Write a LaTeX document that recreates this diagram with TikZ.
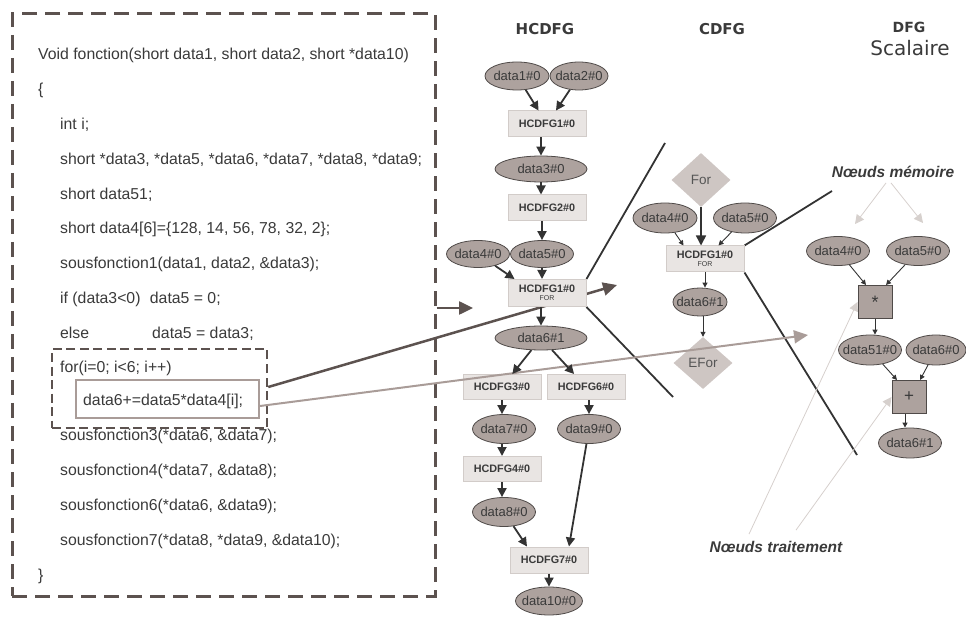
\documentclass[tikz,border=0pt]{standalone}
\usepackage{fontspec}
\setmainfont{Liberation Sans}
\newfontfamily\hdrfont{DejaVu Sans}
\usetikzlibrary{shapes.geometric,arrows.meta,calc}
\definecolor{frameC}{HTML}{5C524F}
\definecolor{ellF}{HTML}{ADA29E}
\definecolor{ellD}{HTML}{4F4A48}
\definecolor{boxF}{HTML}{E9E5E3}
\definecolor{boxD}{HTML}{D2CCC9}
\definecolor{diaF}{HTML}{CEC6C3}
\definecolor{txtC}{HTML}{3A3A3A}
\definecolor{diaT}{HTML}{555555}
\definecolor{arrC}{HTML}{333333}
\definecolor{grayL}{HTML}{A99C98}
\definecolor{lightA}{HTML}{D6D0CD}
\pgfdeclarelayer{bg}
\pgfsetlayers{bg,main}
\begin{document}
\begin{tikzpicture}[x=1pt,y=-1pt,
  ell/.style={ellipse, draw=ellD, line width=0.8pt, fill=ellF, inner xsep=-8pt, inner ysep=0pt, text=txtC, font=\fontsize{13}{13}\selectfont},
  hbox/.style={rectangle, draw=boxD, line width=1pt, fill=boxF, minimum width=78pt, minimum height=26pt, inner sep=0pt, text=txtC, font=\bfseries\fontsize{10.8}{11}\selectfont},
  dia/.style={diamond, fill=diaF, inner sep=0pt, minimum width=59pt, minimum height=54pt, text=diaT, font=\fontsize{13.5}{13.5}\selectfont},
  opbox/.style={rectangle, draw=ellD, line width=1pt, fill=ellF, minimum width=34pt, minimum height=33pt, inner sep=0pt, text=txtC},
  code/.style={anchor=base west, inner sep=0pt, text=txtC, font=\fontsize{15.8}{16}\selectfont},
  hdr/.style={inner sep=0pt, text=txtC, font=\hdrfont\bfseries\fontsize{15}{15}\selectfont},
  arr/.style={draw=arrC, line width=1.8pt, -{Triangle[length=9pt,width=9pt]}},
  sarr/.style={draw=arrC, line width=0.9pt, -{Triangle[length=5pt,width=5pt]}},
  marr/.style={draw=arrC, line width=1.5pt, -{Triangle[length=10pt,width=10pt]}},
  cone/.style={draw=arrC, line width=1.8pt},
  bigarr/.style={draw=frameC, line width=2.5pt, -{Triangle[length=14pt,width=13pt]}},
  grayarr/.style={draw=grayL, line width=2pt, -{Triangle[length=14pt,width=13pt]}},
  lightarr/.style={draw=lightA, line width=0.8pt, -{Triangle[length=9pt,width=9pt]}},
  lbl/.style={inner sep=0pt, text=txtC, font=\bfseries\itshape\fontsize{15.5}{16}\selectfont}
]
\useasboundingbox (0,0) rectangle (966,617);

% code frame
\node[draw=frameC, line width=3pt, dash pattern=on 15pt off 8pt, minimum width=423pt, minimum height=582pt, inner sep=0pt] (frame) at (223.5,305) {};
\node[code] (l1) at (38,60) {Void fonction(short data1, short data2, short *data10)};
\node[code] (l2) at (38,95) {\{};
\node[code] (l3) at (60,130) {int i;};
\node[code] (l4) at (60,165) {short *data3, *data5, *data6, *data7, *data8, *data9;};
\node[code] (l5) at (60,200) {short data51;};
\node[code] (l6) at (60,234) {short data4[6]=\{128, 14, 56, 78, 32, 2\};};
\node[code] (l7) at (60,269) {sousfonction1(data1, data2, \&data3);};
\node[code] (l8) at (60,304) {if (data3<0)\hspace{5pt} data5 = 0;};
\node[code] (l9) at (60,338) {else};
\node[code] (l9b) at (152,338) {data5 = data3;};
\node[code] (l10) at (60,372) {for(i=0; i<6; i++)};
\node[code] (l11) at (83,405) {data6+=data5*data4[i];};
\node[code] (l12) at (60,440) {sousfonction3(*data6, \&data7);};
\node[code] (l13) at (60,475) {sousfonction4(*data7, \&data8);};
\node[code] (l14) at (60,510) {sousfonction6(*data6, \&data9);};
\node[code] (l15) at (60,545) {sousfonction7(*data8, *data9, \&data10);};
\node[code] (l16) at (38,580) {\}};
\node[draw=frameC, line width=2.5pt, dash pattern=on 9pt off 4.5pt, minimum width=215pt, minimum height=79pt, inner sep=0pt] (forbox) at (159.5,388.5) {};
\node[draw=grayL, line width=2pt, minimum width=183pt, minimum height=38pt, inner sep=0pt] (instbox) at (167.5,399) {};

% headers
\node[hdr] (th) at (545,29) {HCDFG};
\node[hdr] (tc) at (722,29) {CDFG};
\node[hdr, font=\hdrfont\bfseries\fontsize{14}{14}\selectfont] (td) at (909,27) {DFG};
\node[inner sep=0pt, text=txtC, font=\hdrfont\fontsize{20}{20}\selectfont] (ts) at (910,48) {Scalaire};

% HCDFG
\node[ell, minimum width=64pt, minimum height=28pt] (d1) at (517,76) {data1\#0};
\node[ell, minimum width=58pt, minimum height=28pt] (d2) at (579,76) {data2\#0};
\node[hbox] (h1) at (547,124) {HCDFG1\#0};
\node[ell, minimum width=92pt, minimum height=26pt] (d3) at (541,169) {data3\#0};
\node[hbox] (h2) at (547,208) {HCDFG2\#0};
\node[ell, minimum width=63pt, minimum height=27pt] (d4) at (478,254) {data4\#0};
\node[ell, minimum width=63pt, minimum height=27pt] (d5) at (542,254) {data5\#0};
\node[hbox, minimum height=27pt, align=center] (f1) at (547,293) {HCDFG1\#0\\[-3pt]{\mdseries\fontsize{7}{7}\selectfont FOR}};
\node[ell, minimum width=92pt, minimum height=24pt] (d6) at (541,338) {data6\#1};
\node[hbox, minimum height=25pt] (h3) at (502,387) {HCDFG3\#0};
\node[hbox, minimum height=25pt] (h6) at (586,387) {HCDFG6\#0};
\node[ell, minimum width=63pt, minimum height=29pt] (d7) at (504,429) {data7\#0};
\node[ell, minimum width=63pt, minimum height=29pt] (d9) at (589,429) {data9\#0};
\node[hbox, minimum height=25pt] (h4) at (502,469) {HCDFG4\#0};
\node[ell, minimum width=63pt, minimum height=29pt] (d8) at (504,512) {data8\#0};
\node[hbox] (h7) at (549,560) {HCDFG7\#0};
\node[ell, minimum width=67pt, minimum height=28pt] (d10) at (549,601) {data10\#0};

% CDFG
\node[dia] (dfor) at (701,180) {For};
\node[ell, minimum width=64pt, minimum height=30pt] (cd4) at (665,218) {data4\#0};
\node[ell, minimum width=63pt, minimum height=30pt] (cd5) at (745,218) {data5\#0};
\node[hbox, align=center] (cf) at (705,259) {HCDFG1\#0\\[-3pt]{\mdseries\fontsize{7}{7}\selectfont FOR}};
\node[ell, minimum width=54pt, minimum height=28pt] (cd6) at (700,302) {data6\#1};
\node[dia, minimum height=52pt] (efor) at (703,363) {EFor};

% DFG
\node[lbl] (mem) at (893,172) {Nœuds mémoire};
\node[ell, minimum width=63pt, minimum height=29pt] (dd4) at (838,251) {data4\#0};
\node[ell, minimum width=63pt, minimum height=29pt] (dd5) at (918,251) {data5\#0};
\node[opbox, font=\fontsize{18}{18}\selectfont] (mul) at (875,302) {*};
\node[ell, minimum width=63pt, minimum height=30pt] (d51) at (870,350) {data51\#0};
\node[ell, minimum width=60pt, minimum height=30pt] (d60) at (936,350) {data6\#0};
\node[opbox, font=\fontsize{17}{17}\selectfont] (add) at (909,397) {+};
\node[ell, minimum width=63pt, minimum height=30pt] (d61) at (910,443) {data6\#1};
\node[lbl] (trt) at (776,547) {Nœuds traitement};

% free ends
\coordinate (a1) at (473,308);
\coordinate (t1) at (617,285);
\coordinate (t2) at (808,335);
\coordinate (c1) at (665,143);
\coordinate (c2) at (673,397);
\coordinate (c3) at (832,191);
\coordinate (c4) at (857,455);
\coordinate (m1) at (855,224);
\coordinate (m2) at (923,223);

% lines behind
\begin{pgfonlayer}{bg}
\draw[bigarr] ([yshift=1.5pt]forbox.east) -- (t1);
\draw[cone] (f1.north east) -- (c1);
\draw[cone] (f1.south east) -- (c2);
\draw[cone] (cf.north east) -- (c3);
\draw[cone] (cf.south east) -- (c4);
\end{pgfonlayer}
\draw[bigarr] (frame.east |- a1) -- (a1);
\draw[grayarr] ([yshift=-7pt]instbox.east) -- (t2);

% HCDFG edges
\draw[arr] (d1) -- (h1);
\draw[arr] (d2) -- (h1);
\draw[arr] (d3 |- h1.south) -- (d3.north);
\draw[arr] (d3.south) -- (d3.south |- h2.north);
\draw[arr] (d5.north |- h2.south) -- (d5.north);
\draw[arr] (d4) -- ([xshift=7pt]f1.north west);
\draw[arr] (d5.south) -- (d5.south |- f1.north);
\draw[arr] (d6 |- f1.south) -- (d6.north);
\draw[arr] (d6) -- (h3);
\draw[arr] (d6) -- (h6);
\draw[arr] (h3.south) -- (h3.south |- d7.north);
\draw[arr] (h4 |- d7.south) -- (h4.north);
\draw[arr] (h4.south) -- (h4.south |- d8.north);
\draw[arr] (d9 |- h6.south) -- (d9.north);
\draw[arr] (d8) -- ([xshift=-22pt]h7.north);
\draw[arr] (d9) -- ([xshift=20pt]h7.north);
\draw[arr] (h7.south) -- (d10.north);

% CDFG edges
\draw[marr] (dfor.south) -- (dfor.south |- cf.north);
\draw[sarr] (cd4) -- ([xshift=18pt]cf.north west);
\draw[sarr] (cd5) -- ([xshift=-26pt]cf.north east);
\draw[sarr] (cf.south) -- (cf.south |- cd6.north);
\draw[sarr] (efor |- cd6.south) -- (efor.north);

% DFG edges
\draw[sarr] (dd4) -- ([xshift=-9pt]mul.north);
\draw[sarr] (dd5) -- ([xshift=11pt]mul.north);
\draw[sarr] (mul.south) -- (mul.south |- d51.north);
\draw[sarr] (d51) -- ([xshift=-12pt]add.north);
\draw[sarr] (d60) -- ([xshift=11pt]add.north);
\draw[sarr] ([xshift=-4pt]add.south) -- ([xshift=-4pt]add.south |- d61.north);

% annotation arrows
\draw[lightarr] ([xshift=-7pt,yshift=-5pt]mem.south) -- (m1);
\draw[lightarr] ([xshift=-2pt,yshift=-5pt]mem.south) -- (m2);
\draw[lightarr] ([xshift=-27pt,yshift=7pt]trt.north) -- (mul.west);
\draw[lightarr] ([xshift=20pt,yshift=11pt]trt.north) -- (add.west);
\end{tikzpicture}
\end{document}
